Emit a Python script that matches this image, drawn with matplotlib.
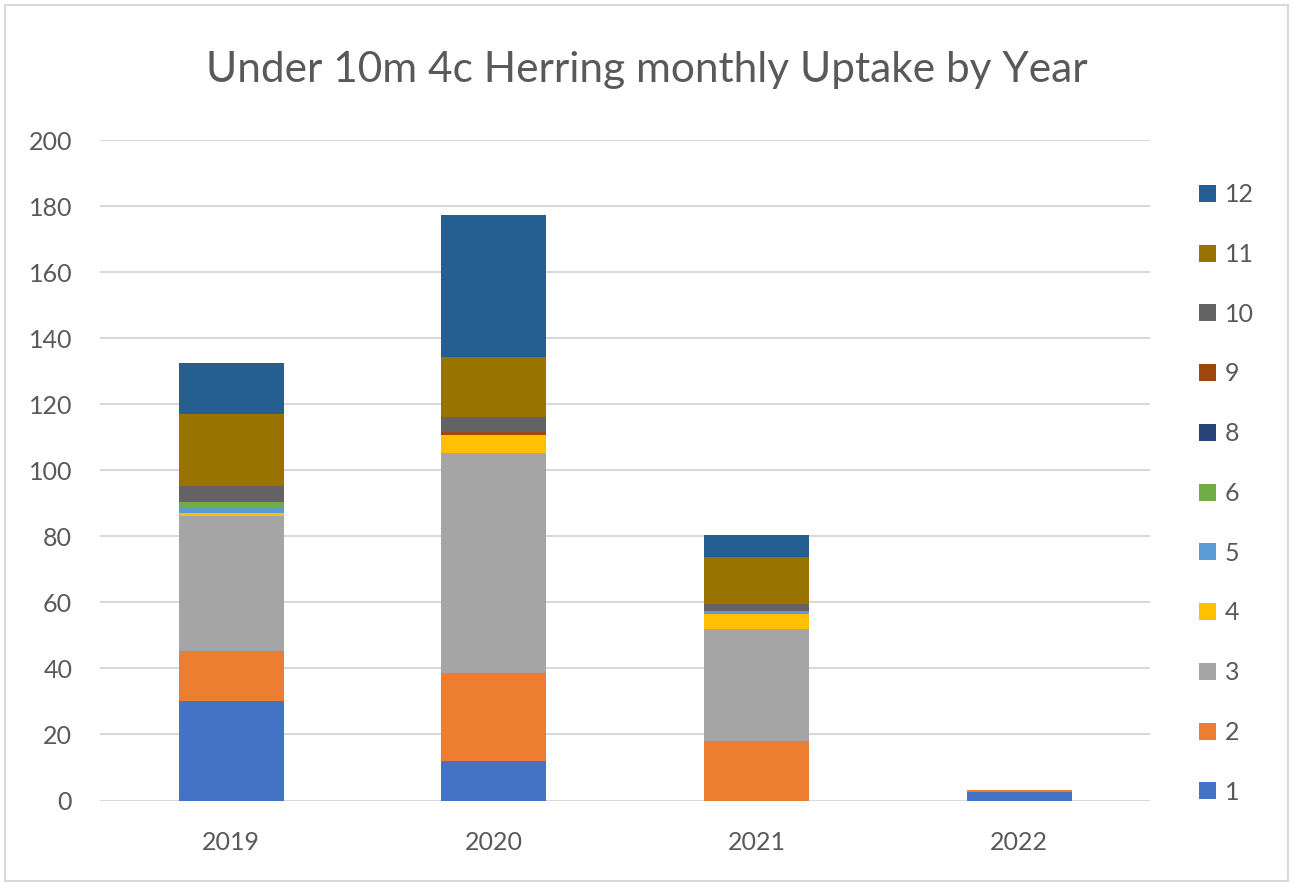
import matplotlib
matplotlib.use("Agg")
import matplotlib.pyplot as plt
import numpy as np
from matplotlib.patches import Rectangle

plt.rcParams['font.family'] = ['Lato', 'DejaVu Sans']

years = ['2019', '2020', '2021', '2022']
months = ['1', '2', '3', '4', '5', '6', '8', '9', '10', '11', '12']
m1 = [30.2, 12.0, 0.0, 2.6]
m2 = [15.0, 26.5, 18.0, 0.6]
m3 = [41.0, 66.7, 34.0, 0.0]
m4 = [1.0, 5.5, 4.5, 0.0]
m5 = [1.5, 0.0, 1.0, 0.0]
m6 = [1.6, 0.0, 0.0, 0.0]
m8 = [0.0, 0.0, 0.0, 0.0]
m9 = [0.0, 1.0, 0.0, 0.0]
m10 = [5.0, 4.5, 2.0, 0.0]
m11 = [21.7, 18.1, 14.4, 0.0]
m12 = [15.7, 43.0, 6.6, 0.0]
series = [m1, m2, m3, m4, m5, m6, m8, m9, m10, m11, m12]
colors = ['#4472C4', '#ED7D31', '#A5A5A5', '#FFC000', '#5B9BD5', '#70AD47',
          '#264478', '#9E480E', '#636363', '#997300', '#255E91']

fig = plt.figure(figsize=(12.94, 8.86), dpi=100)
fig.patches.append(Rectangle((0.004, 0.006), 0.991, 0.988, transform=fig.transFigure,
                             fill=False, edgecolor='#d9d9d9', linewidth=1.5))
ax = fig.add_axes([0.0773, 0.0965, 0.8117, 0.745])

x = np.arange(len(years))
bottom = np.zeros(len(years))
handles = []
for vals, c, lab in zip(series, colors, months):
    v = np.array(vals)
    b = ax.bar(x, v, width=0.4, bottom=bottom, color=c, label=lab, zorder=3)
    handles.append(b)
    bottom += v

ax.set_xlim(-0.5, 3.5)
ax.set_ylim(0, 200)
ax.set_yticks(np.arange(0, 201, 20))
ax.set_xticks(x)
ax.set_xticklabels(years)
ax.grid(axis='y', color='#d9d9d9', linewidth=1.5, zorder=0)
ax.set_axisbelow(True)
for s in ax.spines.values():
    s.set_visible(False)
ax.tick_params(axis='both', length=0, labelsize=18, colors='#595959')
ax.tick_params(axis='x', pad=22)
ax.tick_params(axis='y', pad=20)

fig.text(0.5, 0.921, 'Under 10m 4c Herring monthly Uptake by Year', ha='center', va='center',
         fontsize=30.5, color='#595959')

leg = ax.legend(handles[::-1], months[::-1], loc='upper left', bbox_to_anchor=(1.025, 0.9695),
                frameon=False, fontsize=18, labelspacing=1.47, handlelength=0.67,
                handleheight=0.67, handletextpad=0.35)
for t in leg.get_texts():
    t.set_color('#595959')

fig.savefig('out.png', dpi=100)
